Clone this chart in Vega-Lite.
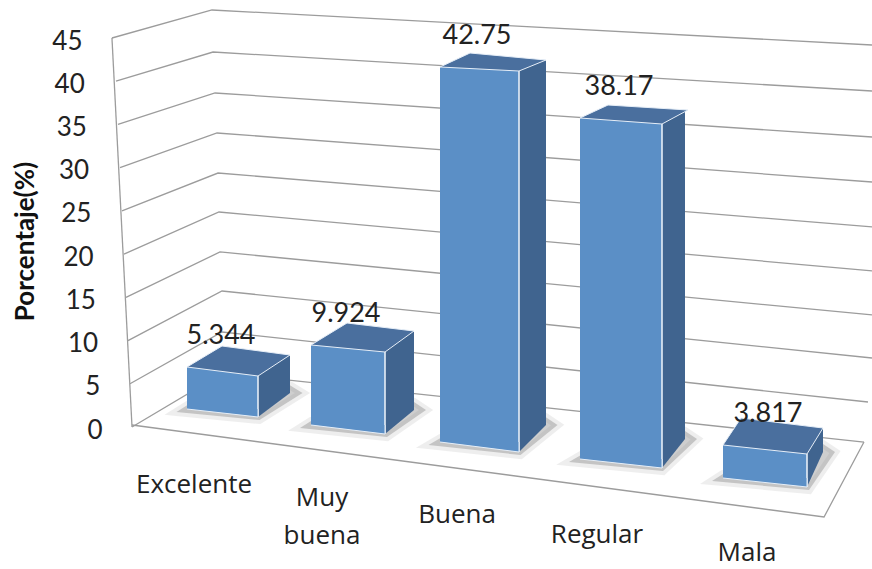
{"$schema":"https://vega.github.io/schema/vega-lite/v6.json","width":872,"height":569,"padding":0,"autosize":{"type":"none"},"background":"white","config":{"view":{"stroke":null},"font":"Lato"},
"datasets":{
"bars":[{"cat":"Excelente","rank":0,"value":5.344},{"cat":"Muy buena","rank":1,"value":9.924},{"cat":"Buena","rank":2,"value":42.75},{"cat":"Regular","rank":3,"value":38.17},{"cat":"Mala","rank":4,"value":3.817}],
"walls":[
{"line":"45","along":12.84,"level":45},{"line":"45","along":24.31,"level":48.24},{"line":"45","along":100,"level":44.19},
{"line":"40","along":13.3,"level":40},{"line":"40","along":24.43,"level":43.38},{"line":"40","along":100,"level":38.87},
{"line":"35","along":13.53,"level":35},{"line":"35","along":24.66,"level":38.64},{"line":"35","along":100,"level":33.55},
{"line":"30","along":13.76,"level":30},{"line":"30","along":24.89,"level":34.01},{"line":"30","along":100,"level":28.34},
{"line":"25","along":13.99,"level":25},{"line":"25","along":25,"level":29.38},{"line":"25","along":100,"level":23.14},
{"line":"20","along":14.22,"level":20},{"line":"20","along":25.11,"level":24.87},{"line":"20","along":100,"level":18.05},
{"line":"15","along":14.45,"level":15},{"line":"15","along":25.23,"level":20.25},{"line":"15","along":100,"level":12.96},
{"line":"10","along":14.68,"level":10},{"line":"10","along":25.46,"level":15.73},{"line":"10","along":100,"level":7.98},
{"line":"5","along":14.91,"level":5},{"line":"5","along":25.46,"level":10.99},{"line":"5","along":99.54,"level":2.89},
{"line":"0","along":15.14,"level":0},{"line":"0","along":25.57,"level":6.25},{"line":"0","along":99.08,"level":-1.74},
{"line":"floor","along":15.14,"level":0.23},{"line":"floor","along":94.5,"level":-10.41},{"line":"floor","along":99.08,"level":-1.74},
{"line":"axis","along":12.84,"level":45},{"line":"axis","along":15.14,"level":0}
]},
"resolve":{"scale":{"x":"independent","y":"independent","size":"independent","shape":"independent"}},
"layer":[
{"data":{"name":"walls"},"mark":{"type":"line","color":"#9c9c9c","strokeWidth":1.3},
"encoding":{"x":{"field":"along","type":"quantitative","axis":null,"scale":{"domain":[0,100],"range":[0,872]}},
"y":{"field":"level","type":"quantitative","scale":{"domain":[0,45],"range":[427,38]},
"axis":{"orient":"left","offset":-102,"domain":false,"ticks":false,"grid":false,"labelPadding":0,"values":[0,5,10,15,20,25,30,35,40,45],"labelFontSize":26,"labelColor":"#222222","labelFont":"Lato","title":"Porcentaje(%)","titleFontSize":26,"titleFont":"Lato","titleFontWeight":"bold","titleColor":"#111111","titleAngle":-90,"titleX":-77,"titleY":241,"titleAlign":"center","titleBaseline":"middle","encoding":{"labels":{"dx":{"value":{"expr":"-(datum.value/45)*20"}},"dy":{"value":3}}}}},
"detail":{"field":"line"}}},
{"data":{"name":"bars"},"mark":{"type":"point","filled":true,"fill":"#8a8a8a","fillOpacity":0.42,"stroke":"#8a8a8a","strokeOpacity":0.15,"strokeWidth":8},
"encoding":{"x":{"field":"rank","type":"quantitative","axis":null,"scale":{"domain":[0,1,2,3,4],"range":[222.5,348,479.5,621,765]}},
"y":{"field":"rank","type":"quantitative","axis":null,"scale":{"domain":[0,1,2,3,4],"range":[409,425,442,459,478]}},
"size":{"value":4},
"shape":{"field":"cat","type":"nominal","legend":null,"scale":{"domain":["Excelente","Muy buena","Buena","Regular","Mala"],"range":["M-46 3L37 11L80 -16L67 -24L-35 -4Z","M-48 3L39 12L78 -15L66 -23L-37 -4Z","M-51 3L41 13L78 -17L66 -25L-39 -4Z","M-52 3L42 12L76 -20L64 -28L-40 -4Z","M-53 3L44 12L70 -26L58 -34L-42 -4Z"]}}}},
{"data":{"name":"bars"},"mark":{"type":"bar","orient":"vertical","color":"#40648f"},
"encoding":{"x":{"field":"rank","type":"quantitative","axis":null,"scale":{"domain":[0,1,2,3,4],"range":[274,399.5,532.5,673.5,815],"padding":0}},
"y":{"field":"value","type":"quantitative","axis":null,"scale":{"domain":[0,1,2,3,3.817,4,5.344,9.924,38.17,42.75],"range":[393,410,425,439,429,452,355,331,110,60]}},
"y2":{"field":"rank"},
"size":{"field":"rank","type":"quantitative","legend":null,"scale":{"domain":[0,1,2,3,4],"range":[32,29,27,23,16]}}}},
{"data":{"name":"bars"},"mark":{"type":"point","filled":true,"fill":"#40648f","strokeWidth":0,"opacity":1},
"encoding":{"x":{"field":"rank","type":"quantitative","axis":null,"scale":{"domain":[0,1,2,3,4],"range":[222.5,348,479.5,621,765]}},
"y":{"field":"rank","type":"quantitative","axis":null,"scale":{"domain":[0,1,2,3,4],"range":[409,425,442,459,478]}},
"size":{"value":4},
"shape":{"field":"cat","type":"nominal","legend":null,"scale":{"domain":["Excelente","Muy buena","Buena","Regular","Mala"],"range":["M35.5 8L67.5 -16L35.5 -16Z","M37 9L66 -15L37 -15Z","M39.5 10L66.5 -17L39.5 -17Z","M41 9L64 -20L41 -20Z","M42 9L58 -26L42 -26Z"]}}}},
{"data":{"name":"bars"},"mark":{"type":"bar","orient":"vertical","color":"#5b8fc6"},
"encoding":{"x":{"field":"rank","type":"quantitative","axis":null,"scale":{"domain":[0,1,2,3,4],"range":[222.5,348,479.5,621,765],"padding":0}},
"y":{"field":"value","type":"quantitative","axis":null,"scale":{"domain":[0,1,2,3,3.817,4,5.344,9.924,38.17,42.75],"range":[409,425,442,459,445,478,367,345,118,67]}},
"y2":{"field":"rank"},
"size":{"field":"rank","type":"quantitative","legend":null,"scale":{"domain":[0,1,2,3,4],"range":[71,74,79,82,84]}}}},
{"data":{"name":"bars"},"mark":{"type":"rule","color":"#e6eef7","strokeWidth":1.6},
"encoding":{"x":{"field":"rank","type":"quantitative","axis":null,"scale":{"domain":[0,1,2,3,4],"range":[258,385,519,662,807]}},
"y":{"field":"value","type":"quantitative","axis":null,"scale":{"domain":[0,1,2,3,3.817,4,5.344,9.924,38.17,42.75],"range":[417,434,452,468,454,487,376,352,124,71]}},
"y2":{"field":"rank"}}},
{"data":{"name":"bars"},"mark":{"type":"point","filled":true,"fill":"#5b8fc6","stroke":"#e6eef7","strokeWidth":1,"opacity":1},
"encoding":{"x":{"field":"rank","type":"quantitative","axis":null,"scale":{"domain":[0,1,2,3,4],"range":[222.5,348,479.5,621,765]}},
"y":{"field":"rank","type":"quantitative","axis":null,"scale":{"domain":[0,1,2,3,4],"range":[409,425,442,459,478]}},
"size":{"value":4},
"shape":{"field":"cat","type":"nominal","legend":null,"scale":{"domain":["Excelente","Muy buena","Buena","Regular","Mala"],"range":["M-35.5 0L35.5 8L35.5 0","M-37 0L37 9L37 0","M-39.5 0L39.5 10L39.5 0","M-41 0L41 9L41 0","M-42 0L42 9L42 0"]}}}},
{"data":{"name":"bars"},"mark":{"type":"point","filled":true,"fill":"#4a6f9e","stroke":"#e6eef7","strokeWidth":1,"opacity":1},
"encoding":{"x":{"field":"rank","type":"quantitative","axis":null,"scale":{"domain":[0,1,2,3,4],"range":[222.5,348,479.5,621,765]}},
"y":{"field":"value","type":"quantitative","axis":null,"scale":{"domain":[3.817,5.344,9.924,38.17,42.75],"range":[445,367,345,118,67]}},
"size":{"value":4},
"shape":{"field":"cat","type":"nominal","legend":null,"scale":{"domain":["Excelente","Muy buena","Buena","Regular","Mala"],"range":["M-35.5 0L35.5 9L67.5 -12L-0.5 -21Z","M-37 0L37 7L66 -14L-1 -22Z","M-39.5 0L39.5 4L66.5 -7L-9.5 -14Z","M-41 0L41 6L67 -8L-13 -13Z","M-42 0L42 9L58 -17L-24 -27Z"]}}}},
{"data":{"name":"bars"},"mark":{"type":"text","fontSize":27,"font":"Lato","color":"#222222","baseline":"middle","dy":-31},
"encoding":{"x":{"field":"rank","type":"quantitative","axis":null,"scale":{"domain":[0,1,2,3,4],"range":[221,346,477,619,768]}},
"y":{"field":"value","type":"quantitative","axis":null,"scale":{"domain":[3.817,5.344,9.924,38.17,42.75],"range":[445,367,345,118,67]}},
"text":{"field":"value","type":"nominal"}}},
{"data":{"name":"bars"},"mark":{"type":"text","fontSize":26,"font":"Open Sans","color":"#222222","baseline":"middle","lineBreak":" ","lineHeight":38},
"encoding":{"x":{"field":"rank","type":"quantitative","axis":null,"scale":{"domain":[0,1,2,3,4],"range":[194,322,457,597,747]}},
"y":{"field":"rank","type":"quantitative","axis":null,"scale":{"domain":[0,1,2,3,4],"range":[485,498,515,535,553]}},
"text":{"field":"cat","type":"nominal"}}}
]}
